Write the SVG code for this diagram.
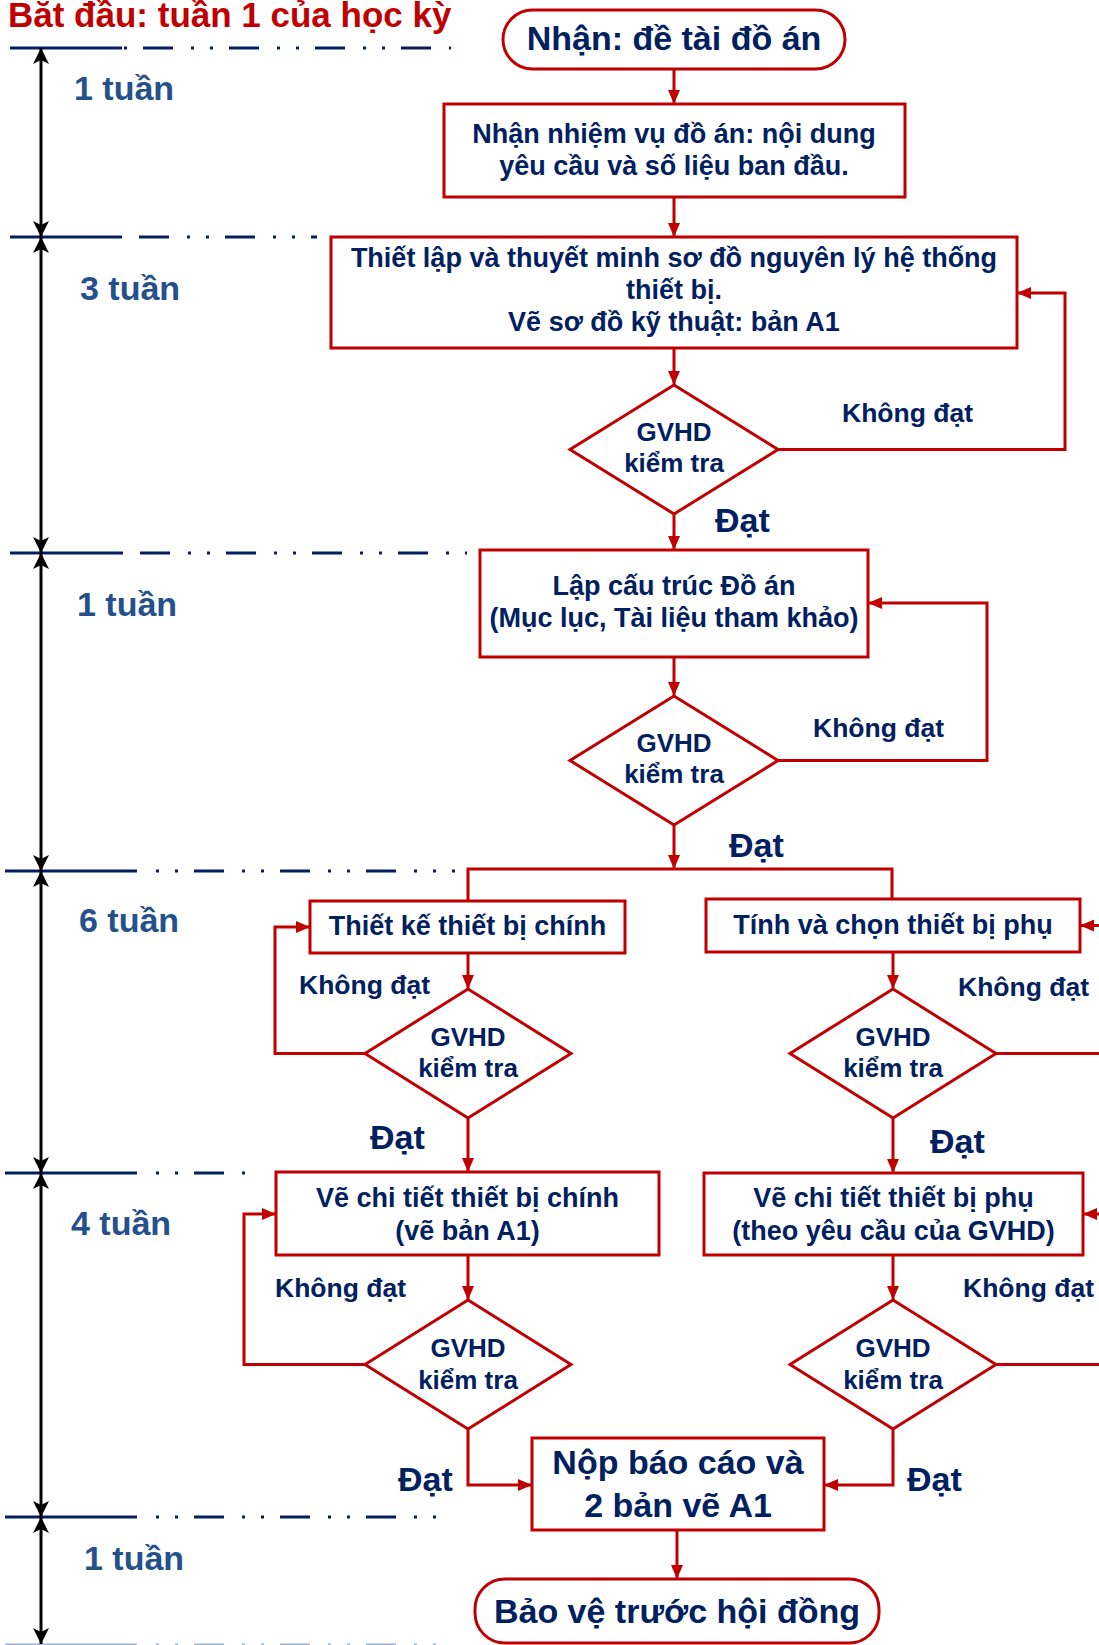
<svg xmlns="http://www.w3.org/2000/svg" width="1099" height="1645" viewBox="0 0 1099 1645">
<style>
.box{fill:#fff;stroke:#C00000;stroke-width:3}
.conn{fill:none;stroke:#C00000;stroke-width:3}
.t{font-family:"Liberation Sans",Arial,sans-serif;font-weight:bold;fill:#002060;text-anchor:middle;font-size:27px}
.big{font-size:34px}
.dia{font-size:26px}
.lbl{font-size:26.5px;text-anchor:start}
.ok{font-size:34px;text-anchor:start}
.dur{font-family:"Liberation Sans",Arial,sans-serif;font-weight:bold;fill:#24508C;font-size:34px}
.title{font-family:"Liberation Sans",Arial,sans-serif;font-weight:bold;fill:#C00000;font-size:35px}
.solid{stroke:#002060;stroke-width:3;fill:none}
.dash{stroke:#002060;stroke-width:3;fill:none;stroke-dasharray:30 18 3 16 3 16}
.time{stroke:#000;stroke-width:3;fill:none}
</style>
<defs>
<marker id="ar" viewBox="0 0 14 12" refX="14" refY="6" markerWidth="14" markerHeight="12" markerUnits="userSpaceOnUse" orient="auto"><path d="M0,0L14,6L0,12z" fill="#C00000"/></marker>
<marker id="ab" viewBox="0 0 16 16" refX="16" refY="8" markerWidth="16" markerHeight="16" markerUnits="userSpaceOnUse" orient="auto-start-reverse"><path d="M0,0L16,8L0,16L4,8z" fill="#000"/></marker>
</defs>
<rect width="1099" height="1645" fill="#fff"/>

<g id="timeline">
<text class="title" x="8" y="27">Bắt đầu: tuần 1 của học kỳ</text>
<path class="solid" d="M10,48H122M10,237H122M10,553H123M5,871H137M5,1173H137M5,1517H137"/>
<path class="dash" d="M122,48H451" stroke-dashoffset="65"/>
<path class="dash" d="M123,237H317" stroke-dashoffset="70"/>
<path class="dash" d="M124,553H467" stroke-dashoffset="70"/>
<path class="dash" d="M139,871H455" stroke-dashoffset="31"/>
<path class="dash" d="M139,1173H245" stroke-dashoffset="31"/>
<path class="dash" d="M139,1517H436" stroke-dashoffset="31"/>
<path d="M5,1644.5H137" stroke="#9fb2cf" stroke-width="2"/>
<path d="M139,1644.5H436" stroke="#9fb2cf" stroke-width="2" stroke-dasharray="30 18 3 16 3 16" stroke-dashoffset="31"/>
<line class="time" x1="41" y1="48" x2="41" y2="237" marker-start="url(#ab)" marker-end="url(#ab)"/>
<line class="time" x1="41" y1="237" x2="41" y2="553" marker-start="url(#ab)" marker-end="url(#ab)"/>
<line class="time" x1="41" y1="553" x2="41" y2="871" marker-start="url(#ab)" marker-end="url(#ab)"/>
<line class="time" x1="41" y1="871" x2="41" y2="1173" marker-start="url(#ab)" marker-end="url(#ab)"/>
<line class="time" x1="41" y1="1173" x2="41" y2="1517" marker-start="url(#ab)" marker-end="url(#ab)"/>
<line class="time" x1="41" y1="1517" x2="41" y2="1644" marker-start="url(#ab)" marker-end="url(#ab)"/>
<text class="dur" x="74" y="100">1 tuần</text>
<text class="dur" x="80" y="300">3 tuần</text>
<text class="dur" x="77" y="616">1 tuần</text>
<text class="dur" x="79" y="932">6 tuần</text>
<text class="dur" x="71" y="1235">4 tuần</text>
<text class="dur" x="84" y="1570">1 tuần</text>
</g>

<g id="connectors">
<path class="conn" d="M674,69V104" marker-end="url(#ar)"/>
<path class="conn" d="M674,197V237" marker-end="url(#ar)"/>
<path class="conn" d="M674,348V385" marker-end="url(#ar)"/>
<path class="conn" d="M778,449.5H1065V293H1017" marker-end="url(#ar)"/>
<path class="conn" d="M674,514V550" marker-end="url(#ar)"/>
<path class="conn" d="M674,657V696" marker-end="url(#ar)"/>
<path class="conn" d="M778,760.5H987V603H868" marker-end="url(#ar)"/>
<path class="conn" d="M674,825V869" marker-end="url(#ar)"/>
<path class="conn" d="M468,901V869H892V900"/>
<path class="conn" d="M468,953V989" marker-end="url(#ar)"/>
<path class="conn" d="M365,1053.5H275V927H310" marker-end="url(#ar)"/>
<path class="conn" d="M468,1118V1172" marker-end="url(#ar)"/>
<path class="conn" d="M893,952V989" marker-end="url(#ar)"/>
<path class="conn" d="M996,1053.5H1105"/>
<path class="conn" d="M1105,925.5H1080" marker-end="url(#ar)"/>
<path class="conn" d="M893,1118V1173" marker-end="url(#ar)"/>
<path class="conn" d="M1105,1214H1083" marker-end="url(#ar)"/>
<path class="conn" d="M468,1255V1300" marker-end="url(#ar)"/>
<path class="conn" d="M365,1364.5H244V1214H276" marker-end="url(#ar)"/>
<path class="conn" d="M893,1255V1300" marker-end="url(#ar)"/>
<path class="conn" d="M996,1364.5H1105"/>
<path class="conn" d="M468,1429V1485H532" marker-end="url(#ar)"/>
<path class="conn" d="M893,1429V1485H824" marker-end="url(#ar)"/>
<path class="conn" d="M677,1530V1579" marker-end="url(#ar)"/>
</g>

<g id="labels">
<text class="t lbl" x="842" y="422">Không đạt</text>
<text class="t lbl" x="813" y="737">Không đạt</text>
<text class="t lbl" x="299" y="994">Không đạt</text>
<text class="t lbl" x="958" y="996">Không đạt</text>
<text class="t lbl" x="275" y="1297">Không đạt</text>
<text class="t lbl" x="963" y="1297">Không đạt</text>
<text class="t ok" x="715" y="532">Đạt</text>
<text class="t ok" x="729" y="857">Đạt</text>
<text class="t ok" x="370" y="1149">Đạt</text>
<text class="t ok" x="930" y="1153">Đạt</text>
<text class="t ok" x="398" y="1491">Đạt</text>
<text class="t ok" x="907" y="1491">Đạt</text>
</g>

<g id="start">
<rect class="box" x="503" y="10" width="342" height="59" rx="29.5"/>
<text class="t big" x="674" y="50">Nhận: đề tài đồ án</text>
</g>
<g id="task">
<rect class="box" x="444" y="104" width="461" height="93"/>
<text class="t" x="674" y="143">Nhận nhiệm vụ đồ án: nội dung</text>
<text class="t" x="674" y="175">yêu cầu và số liệu ban đầu.</text>
</g>
<g id="schema">
<rect class="box" x="331" y="237" width="686" height="111"/>
<text class="t" x="674" y="267">Thiết lập và thuyết minh sơ đồ nguyên lý hệ thống</text>
<text class="t" x="674" y="299">thiết bị.</text>
<text class="t" x="674" y="331">Vẽ sơ đồ kỹ thuật: bản A1</text>
</g>
<g id="check1">
<polygon class="box" points="674,385 778,449.5 674,514 570,449.5"/>
<text class="t dia" x="674" y="441">GVHD</text>
<text class="t dia" x="674" y="472">kiểm tra</text>
</g>
<g id="structure">
<rect class="box" x="480" y="550" width="388" height="107"/>
<text class="t" x="674" y="595">Lập cấu trúc Đồ án</text>
<text class="t" x="674" y="627">(Mục lục, Tài liệu tham khảo)</text>
</g>
<g id="check2">
<polygon class="box" points="674,696 778,760.5 674,825 570,760.5"/>
<text class="t dia" x="674" y="752">GVHD</text>
<text class="t dia" x="674" y="783">kiểm tra</text>
</g>
<g id="main-design">
<rect class="box" x="310" y="901" width="315" height="52"/>
<text class="t" x="467.5" y="935">Thiết kế thiết bị chính</text>
</g>
<g id="aux-design">
<rect class="box" x="706" y="899" width="374" height="53"/>
<text class="t" x="893" y="934">Tính và chọn thiết bị phụ</text>
</g>
<g id="check3">
<polygon class="box" points="468,989 571,1053.5 468,1118 365,1053.5"/>
<text class="t dia" x="468" y="1046">GVHD</text>
<text class="t dia" x="468" y="1077">kiểm tra</text>
</g>
<g id="check4">
<polygon class="box" points="893,989 996,1053.5 893,1118 790,1053.5"/>
<text class="t dia" x="893" y="1046">GVHD</text>
<text class="t dia" x="893" y="1077">kiểm tra</text>
</g>
<g id="main-drawing">
<rect class="box" x="276" y="1172" width="383" height="83"/>
<text class="t" x="467.5" y="1207">Vẽ chi tiết thiết bị chính</text>
<text class="t" x="467.5" y="1240">(vẽ bản A1)</text>
</g>
<g id="aux-drawing">
<rect class="box" x="704" y="1173" width="379" height="82"/>
<text class="t" x="893.5" y="1207">Vẽ chi tiết thiết bị phụ</text>
<text class="t" x="893.5" y="1240">(theo yêu cầu của GVHD)</text>
</g>
<g id="check5">
<polygon class="box" points="468,1300 571,1364.5 468,1429 365,1364.5"/>
<text class="t dia" x="468" y="1357">GVHD</text>
<text class="t dia" x="468" y="1389">kiểm tra</text>
</g>
<g id="check6">
<polygon class="box" points="893,1300 996,1364.5 893,1429 790,1364.5"/>
<text class="t dia" x="893" y="1357">GVHD</text>
<text class="t dia" x="893" y="1389">kiểm tra</text>
</g>
<g id="submit">
<rect class="box" x="532" y="1438" width="292" height="92"/>
<text class="t big" x="678" y="1474">Nộp báo cáo và</text>
<text class="t big" x="678" y="1517">2 bản vẽ A1</text>
</g>
<g id="defend">
<rect class="box" x="475" y="1579" width="404" height="64" rx="30"/>
<text class="t big" x="677" y="1623">Bảo vệ trước hội đồng</text>
</g>
</svg>
